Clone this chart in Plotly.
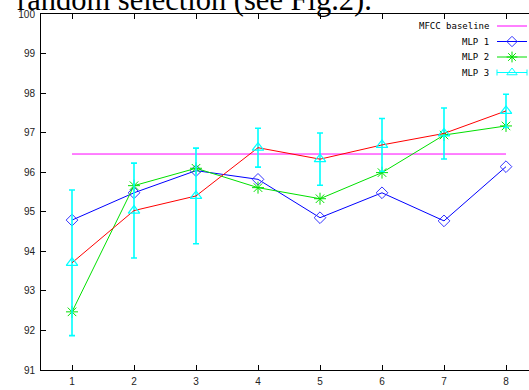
import plotly.graph_objects as go

# ---- data ----
x_vals = [1, 2, 3, 4, 5, 6, 7, 8]
baseline_value = 96.46
mlp1 = [94.79, 95.48, 96.04, 95.82, 94.85, 95.48, 94.77, 96.14]
mlp2 = [92.47, 95.66, 96.10, 95.61, 95.33, 95.99, 96.94, 97.17]
mlp3 = [93.71, 95.03, 95.40, 96.62, 96.33, 96.69, 96.98, 97.55]
mlp3_err = [1.84, 1.20, 1.21, 0.49, 0.66, 0.67, 0.645, 0.42]
y_ticks = [91, 92, 93, 94, 95, 96, 97, 98, 99, 100]
series_names = ["MFCC baseline", "MLP 1", "MLP 2", "MLP 3"]
title_text = "random selection (see Fig.2)."

W, H = 529, 390
L, R, T, B = 41, 0, 14, 20

fig = go.Figure()

fig.add_trace(go.Scatter(x=[x_vals[0], x_vals[-1]], y=[baseline_value, baseline_value],
                         mode="lines", line=dict(color="#ff00ff", width=1), showlegend=False))
fig.add_trace(go.Scatter(x=x_vals, y=mlp1, mode="lines+markers",
                         line=dict(color="#0000ff", width=1),
                         marker=dict(symbol="diamond-open", size=9, color="#3333ff", line=dict(width=1)),
                         showlegend=False))
fig.add_trace(go.Scatter(x=x_vals, y=mlp2, mode="lines+markers",
                         line=dict(color="#00e000", width=1),
                         marker=dict(symbol="asterisk-open", size=10, color="#00e000", line=dict(width=1, color="#00e000")),
                         showlegend=False))
fig.add_trace(go.Scatter(x=x_vals, y=mlp3, mode="lines+markers",
                         line=dict(color="#ff0000", width=1),
                         marker=dict(symbol="triangle-up-open", size=10, color="#00ffff", line=dict(width=1.2)),
                         error_y=dict(type="data", array=mlp3_err, visible=True, color="#00ffff",
                                      thickness=1.6, width=3),
                         showlegend=False))

# ---- custom legend (text left of sample) on a pixel-space overlay axis ----
leg_rows = [26, 41.5, 57, 72.5]
lx0, lx1, lxm, ltxt = 497, 527, 512, 491
leg_styles = [
    dict(line=dict(color="#ff00ff", width=1), marker=None),
    dict(line=dict(color="#0000ff", width=1), marker=dict(symbol="diamond-open", size=8, color="#3333ff")),
    dict(line=dict(color="#00e000", width=1), marker=dict(symbol="asterisk-open", size=9, color="#00e000", line=dict(width=1, color="#00e000"))),
    dict(line=dict(color="#00ffff", width=1), marker=dict(symbol="triangle-up-open", size=9, color="#00ffff")),
]
for name, yy, st in zip(series_names, leg_rows, leg_styles):
    fig.add_trace(go.Scatter(x=[lx0, lx1], y=[yy, yy], mode="lines", line=st["line"],
                             xaxis="x2", yaxis="y2", showlegend=False, hoverinfo="skip"))
    if st["marker"] is not None:
        fig.add_trace(go.Scatter(x=[lxm], y=[yy], mode="markers", marker=st["marker"],
                                 xaxis="x2", yaxis="y2", showlegend=False, hoverinfo="skip"))
    fig.add_annotation(x=ltxt, y=yy, xref="x2", yref="y2", text=name, showarrow=False,
                       xanchor="right", yanchor="middle",
                       font=dict(family="DejaVu Sans Mono", size=9, color="#000000"))
# error caps on MLP 3 legend sample
cy = leg_rows[3]
for cx in (lx0, lx1):
    fig.add_trace(go.Scatter(x=[cx, cx], y=[cy - 3, cy + 3], mode="lines",
                             line=dict(color="#00ffff", width=1), xaxis="x2", yaxis="y2",
                             showlegend=False, hoverinfo="skip"))

fig.add_annotation(text=title_text, xref="paper", yref="paper", x=0, y=1,
                   xanchor="left", yanchor="bottom", xshift=-26, yshift=-5, showarrow=False,
                   font=dict(family="Liberation Serif", size=30.5, color="#000000"))

px_per_unit = (506 - 72) / 7.0
x_right = 1 + (W - 72) / px_per_unit

fig.update_layout(
    width=W, height=H,
    margin=dict(l=L, r=R, t=T, b=B, autoexpand=False),
    paper_bgcolor="white", plot_bgcolor="white",
    showlegend=False,
    xaxis=dict(range=[0.5, x_right], tickvals=x_vals, ticktext=[str(v) for v in x_vals],
               ticks="inside", ticklen=5, tickcolor="black", showline=True, linecolor="black",
               linewidth=1, mirror="ticks", showgrid=False, zeroline=False,
               ticklabelstandoff=2, automargin=False,
               tickfont=dict(family="Liberation Sans", size=10, color="#222222")),
    yaxis=dict(range=[91, 100], tickvals=y_ticks, ticktext=[str(v) for v in y_ticks],
               ticks="inside", ticklen=5, tickcolor="black", showline=True, linecolor="black",
               linewidth=1, mirror=False, showgrid=False, zeroline=False,
               ticklabelstandoff=3, automargin=False,
               tickfont=dict(family="Liberation Sans", size=10, color="#222222")),
    xaxis2=dict(overlaying="x", range=[L, W - R], visible=False, fixedrange=True),
    yaxis2=dict(overlaying="y", range=[H - B, T], visible=False, fixedrange=True),
)

fig.write_html("out.html", config={"displayModeBar": False},
               post_script="document.body.style.margin='0';document.body.style.overflow='hidden';")
